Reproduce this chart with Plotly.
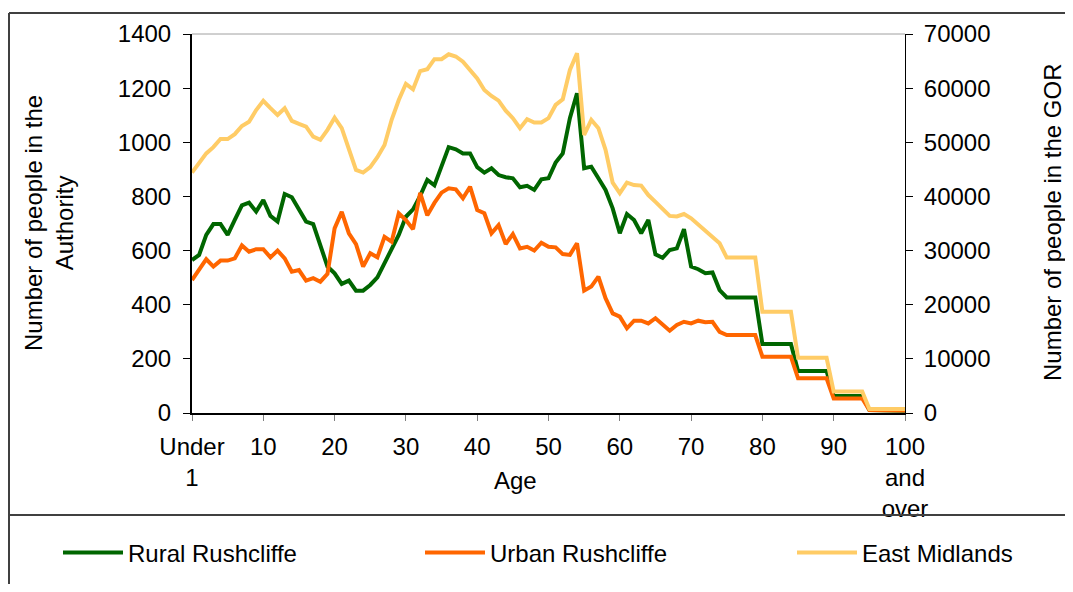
import plotly.graph_objects as go

ages = list(range(101))
tick_vals = [0, 10, 20, 30, 40, 50, 60, 70, 80, 90, 100]
tick_text = ["Under<br>1", "10", "20", "30", "40", "50", "60", "70", "80", "90", "100<br>and<br>over"]

rural = [565, 584, 658, 698, 698, 658, 713, 767, 777, 744,
         787, 728, 707, 809, 797, 750, 707, 698, 615, 541,
         516, 477, 489, 452, 452, 473, 501, 553, 608, 658,
         725, 752, 802, 861, 841, 910, 982, 974, 959, 959,
         908, 888, 904, 879, 871, 867, 834, 839, 824, 863,
         867, 925, 959, 1089, 1181, 904, 910, 867, 824, 756,
         664, 735, 713, 664, 713, 586, 573, 602, 608, 679,
         541, 531, 516, 519, 454, 427, 427, 427, 427, 427,
         255, 255, 255, 255, 255, 155, 155, 155, 155, 155,
         63, 63, 63, 63, 63, 11, 11, 11, 11, 11, 8]

urban = [491, 528, 568, 541, 563, 563, 571, 619, 596, 605,
         605, 575, 600, 571, 522, 528, 489, 498, 485, 514,
         682, 743, 664, 624, 541, 590, 575, 651, 633, 738,
         713, 679, 813, 730, 776, 814, 830, 826, 793, 836,
         750, 738, 664, 694, 624, 661, 608, 614, 600, 629,
         614, 612, 587, 584, 627, 452, 467, 504, 424, 368,
         356, 313, 341, 341, 331, 350, 327, 304, 325, 337,
         331, 341, 335, 337, 300, 288, 288, 288, 288, 288,
         208, 208, 208, 208, 208, 128, 128, 128, 128, 128,
         54, 54, 54, 54, 54, 11, 11, 11, 11, 11, 9]

east_midlands = [44400, 46250, 47950, 49100, 50600, 50600, 51500, 53000, 53800, 55950,
                 57650, 56300, 55050, 56300, 53950, 53400, 52900, 51050, 50450, 52300,
                 54550, 52600, 48700, 44900, 44400, 45400, 47250, 49500, 54150, 57800,
                 60800, 59800, 63150, 63500, 65350, 65350, 66250, 65850, 64900, 63350,
                 61800, 59650, 58550, 57700, 55850, 54450, 52600, 54250, 53650, 53650,
                 54450, 56900, 57950, 63350, 66450, 51350, 54150, 52600, 48600, 42550,
                 40600, 42550, 42100, 42000, 40250, 39000, 37800, 36400, 36300, 36750,
                 35950, 34750, 33800, 32550, 31350, 28700, 28700, 28700, 28700, 28700,
                 18700, 18700, 18700, 18700, 18700, 10200, 10200, 10200, 10200, 10200,
                 3950, 3950, 3950, 3950, 3950, 750, 750, 750, 750, 750, 750]

FONT = "Liberation Sans, Arial, sans-serif"
FS = 24

# page body has an 8px margin, so figure pixel = page pixel - 8
W, H = 1057, 576
L, R, T, B = 184, 897, 26, 405

def px_x(p):
    return (p - L) / (R - L)

def px_y(p):
    return (B - p) / (B - T)

fig = go.Figure()
fig.add_trace(go.Scatter(x=ages, y=rural, mode="lines", name="Rural Rushcliffe",
                         line=dict(color="#006600", width=4), legend="legend"))
fig.add_trace(go.Scatter(x=ages, y=urban, mode="lines", name="Urban Rushcliffe",
                         line=dict(color="#FF6600", width=4), legend="legend2"))
fig.add_trace(go.Scatter(x=ages, y=east_midlands, mode="lines", name="East Midlands",
                         line=dict(color="#FFCC66", width=4), yaxis="y2", legend="legend3"))

def leg(xpix):
    return dict(orientation="h", xref="container", yref="container",
                x=xpix / W, xanchor="left", y=(H - 545) / H, yanchor="middle",
                font=dict(size=FS), bgcolor="rgba(0,0,0,0)", itemwidth=60)

fig.update_layout(
    width=W, height=H,
    margin=dict(l=L, r=W - R, t=T, b=H - B, pad=0, autoexpand=False),
    paper_bgcolor="white", plot_bgcolor="white",
    font=dict(family=FONT, size=FS, color="black"),
    showlegend=True,
    xaxis=dict(range=[0, 100], tickmode="array", tickvals=tick_vals, ticktext=tick_text,
               showgrid=False, zeroline=False, showline=True, linecolor="black", linewidth=2,
               ticks="outside", ticklen=6, tickcolor="#808080", tickwidth=1,
               tickfont=dict(size=FS), ticklabelstandoff=5, automargin=False),
    yaxis=dict(range=[0, 1400], tickvals=[0, 200, 400, 600, 800, 1000, 1200, 1400],
               showgrid=False, zeroline=False, showline=True, linecolor="black", linewidth=2,
               ticks="outside", ticklen=7, tickcolor="black", tickwidth=1,
               tickfont=dict(size=FS), ticklabelstandoff=7, automargin=False),
    yaxis2=dict(range=[0, 70000], overlaying="y", side="right", tickformat="d",
                tickvals=[0, 10000, 20000, 30000, 40000, 50000, 60000, 70000],
                showgrid=False, zeroline=False, showline=True, linecolor="black", linewidth=1,
                ticks="outside", ticklen=7, tickcolor="black", tickwidth=1,
                tickfont=dict(size=FS), ticklabelstandoff=6, automargin=False),
    legend=leg(50),
    legend2=leg(412),
    legend3=leg(784),
    shapes=[
        dict(type="line", xref="paper", yref="paper", x0=0, x1=1, y0=1, y1=1,
             line=dict(color="#a0a0a0", width=1), layer="below"),
        dict(type="line", xref="paper", yref="paper", x0=px_x(1), x1=px_x(W + 5),
             y0=px_y(5), y1=px_y(5), line=dict(color="#404040", width=2)),
        dict(type="line", xref="paper", yref="paper", x0=px_x(1), x1=px_x(1),
             y0=px_y(5), y1=px_y(H + 5), line=dict(color="#404040", width=2)),
        dict(type="line", xref="paper", yref="paper", x0=px_x(1), x1=px_x(W + 5),
             y0=px_y(507), y1=px_y(507), line=dict(color="#404040", width=2)),
    ],
    annotations=[
        dict(text="Number of people in the<br>Authority", xref="paper", yref="paper",
             x=px_x(41), y=px_y(215), textangle=-90, showarrow=False,
             font=dict(size=FS), xanchor="center", yanchor="middle"),
        dict(text="Number of people in the GOR", xref="paper", yref="paper",
             x=px_x(1044), y=px_y(214), textangle=-90, showarrow=False,
             font=dict(size=FS), xanchor="center", yanchor="middle"),
        dict(text="Age", xref="paper", yref="paper", x=px_x(507), y=px_y(472),
             showarrow=False, font=dict(size=FS), xanchor="center", yanchor="middle"),
    ],
)

fig.write_html("out.html")
